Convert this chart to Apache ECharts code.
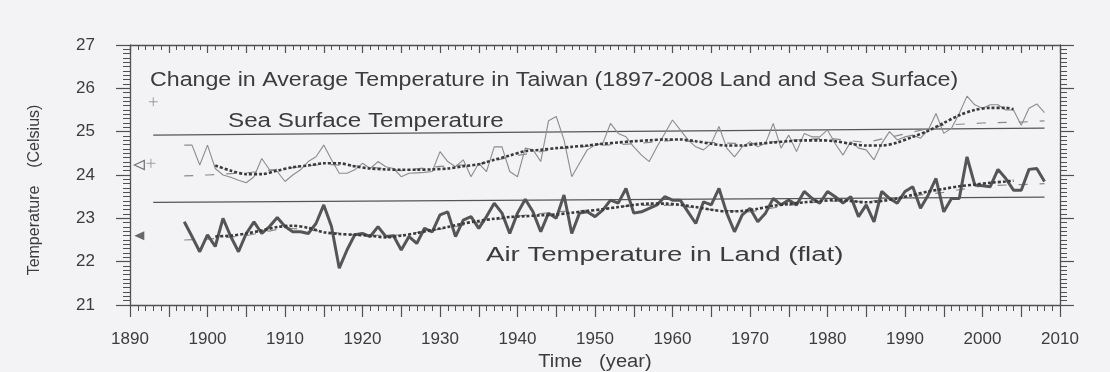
<!DOCTYPE html>
<html>
<head>
<meta charset="utf-8">
<script src="https://cdn.jsdelivr.net/npm/echarts@6/dist/echarts.min.js"></script>
<style>
html,body{margin:0;padding:0;background:#f3f3f5;}
#c{width:1110px;height:372px;}
</style>
</head>
<body>
<div id="c"></div>
<script>
// ---- data ----
var startYear = 1897;
var seaTemp = [
  24.69,24.69,24.23,24.69,24.15,24.00,23.95,23.88,23.82,23.96,
  24.38,24.12,24.08,23.85,24.00,24.12,24.31,24.42,24.69,24.35,
  24.04,24.04,24.12,24.27,24.15,24.31,24.19,24.15,23.96,24.04,
  24.05,24.06,24.08,24.54,24.31,24.19,24.35,23.96,24.27,24.08,
  24.65,24.65,24.08,23.96,24.62,24.58,24.31,25.25,25.35,24.81,
  23.96,24.27,24.58,24.69,24.73,25.19,24.96,24.88,24.65,24.46,
  24.31,24.65,24.96,25.27,25.04,24.81,24.65,24.58,24.73,25.12,
  24.62,24.42,24.65,24.77,24.65,24.73,25.19,24.62,24.92,24.54,
  24.96,24.88,24.88,25.04,24.72,24.46,24.77,24.62,24.58,24.35,
  24.73,25.00,24.81,24.88,24.92,24.85,25.04,25.42,24.96,25.08,
  25.42,25.82,25.62,25.54,25.62,25.62,25.50,25.50,25.15,25.54,
  25.64,25.44
];
var landTemp = [
  22.92,22.58,22.23,22.62,22.35,23.00,22.58,22.23,22.65,22.92,
  22.65,22.81,23.02,22.81,22.69,22.69,22.65,22.88,23.31,22.81,
  21.85,22.27,22.62,22.65,22.58,22.81,22.58,22.60,22.27,22.58,
  22.42,22.77,22.69,23.08,23.15,22.58,22.96,23.04,22.77,23.04,
  23.35,23.12,22.65,23.12,23.44,23.15,22.69,23.12,23.00,23.54,
  22.65,23.12,23.15,23.04,23.19,23.42,23.35,23.69,23.12,23.15,
  23.23,23.31,23.50,23.42,23.42,23.15,22.88,23.38,23.31,23.69,
  23.12,22.69,23.08,23.23,22.92,23.12,23.46,23.31,23.42,23.31,
  23.62,23.46,23.35,23.62,23.50,23.35,23.50,23.04,23.31,22.92,
  23.62,23.46,23.35,23.62,23.73,23.23,23.54,23.92,23.15,23.46,
  23.46,24.42,23.77,23.75,23.73,24.13,23.92,23.65,23.65,24.13,
  24.15,23.85
];
var smoothYears = [1901,1903,1905,1907,1909,1911,1913,1915,1917,1919,1921,1923,1925,1927,1929,1931,1933,1935,1937,1939,1941,1943,1945,1947,1949,1951,1953,1955,1957,1959,1961,1963,1965,1967,1969,1971,1973,1975,1977,1979,1981,1983,1985,1987,1989,1991,1993,1995,1997,1999,2001,2003,2004];
var seaSmooth = [24.22,24.10,24.02,24.02,24.10,24.18,24.22,24.27,24.27,24.20,24.15,24.13,24.12,24.12,24.13,24.15,24.20,24.25,24.35,24.45,24.55,24.58,24.62,24.65,24.68,24.72,24.75,24.78,24.80,24.82,24.82,24.78,24.72,24.68,24.68,24.72,24.75,24.78,24.80,24.80,24.78,24.72,24.68,24.68,24.75,24.88,25.02,25.20,25.38,25.50,25.55,25.55,25.52];
var landSmooth = [22.58,22.60,22.65,22.72,22.80,22.83,22.78,22.68,22.64,22.62,22.60,22.56,22.60,22.66,22.73,22.80,22.88,22.94,22.99,23.03,23.05,23.07,23.09,23.13,23.17,23.21,23.26,23.31,23.34,23.34,23.31,23.26,23.20,23.16,23.17,23.22,23.29,23.33,23.37,23.40,23.42,23.40,23.37,23.40,23.46,23.54,23.62,23.68,23.74,23.78,23.82,23.85,23.87];
var dashYears = [1897,1900,1905,1910,1915,1920,1925,1930,1935,1940,1945,1950,1955,1960,1965,1970,1975,1980,1985,1990,1995,2000,2005,2008];
var seaDash = [23.98,24.00,24.05,24.15,24.25,24.20,24.10,24.20,24.25,24.45,24.60,24.68,24.72,24.80,24.75,24.72,24.80,24.85,24.75,24.95,25.15,25.20,25.22,25.25];
var landDash = [22.50,22.52,22.60,22.78,22.70,22.60,22.62,22.75,22.90,23.05,23.15,23.20,23.30,23.30,23.20,23.15,23.30,23.40,23.38,23.50,23.60,23.75,23.78,23.80];
var refYears = [1893,2008];
var seaRef = [24.92,25.08];
var landRef = [23.37,23.49];
var xTicks = [1890,1900,1910,1920,1930,1940,1950,1960,1970,1980,1990,2000,2010];

function pairs(xs, ys){ return ys.map(function(v,i){ return [xs[i], v]; }); }
function yearly(vals){ return vals.map(function(v,i){ return [startYear+i, v]; }); }

var FONT = '"Liberation Sans", Arial, sans-serif';
var TXT = '#3c3c3c';
var AX = '#505050';

var chart = echarts.init(document.getElementById('c'), null, {renderer:'canvas'});
var option = {
  backgroundColor: '#f3f3f5',
  animation: false,
  textStyle: {fontFamily: FONT},
  grid: {left:130, right:50, top:45, bottom:67, containLabel:false},
  xAxis: [
    {type:'value', min:1890, max:2010, interval:5, position:'bottom',
     axisLine:{show:true, onZero:false, lineStyle:{color:AX, width:1.3}},
     axisTick:{show:true, length:12, lineStyle:{color:AX, width:1.2}},
     minorTick:{show:true, splitNumber:5, length:6, lineStyle:{color:AX, width:1}},
     splitLine:{show:false},
     axisLabel:{margin:26, fontSize:17, color:TXT, fontFamily:FONT,
       formatter:function(v){ return xTicks.indexOf(v) >= 0 ? String(v) : ''; }}},
    {type:'value', min:1890, max:2010, interval:5, position:'top',
     axisLine:{show:true, onZero:false, lineStyle:{color:AX, width:1.3}},
     axisTick:{show:true, inside:true, length:8, lineStyle:{color:AX, width:1.2}},
     minorTick:{show:true, splitNumber:5, length:5, lineStyle:{color:AX, width:1}},
     splitLine:{show:false}, axisLabel:{show:false}}
  ],
  yAxis: [
    {type:'value', min:21, max:27, interval:1, position:'left',
     axisLine:{show:true, onZero:false, lineStyle:{color:AX, width:1.3}},
     axisTick:{show:true, length:14, lineStyle:{color:AX, width:1.2}},
     minorTick:{show:true, splitNumber:10, length:7, lineStyle:{color:AX, width:1}},
     splitLine:{show:false},
     axisLabel:{margin:35, fontSize:17, color:TXT, fontFamily:FONT}},
    {type:'value', min:21, max:27, interval:1, position:'right',
     axisLine:{show:true, onZero:false, lineStyle:{color:AX, width:1.3}},
     axisTick:{show:true, length:14, lineStyle:{color:AX, width:1.2}},
     minorTick:{show:true, splitNumber:10, length:7, lineStyle:{color:AX, width:1}},
     splitLine:{show:false}, axisLabel:{show:false}}
  ],
  series: [
    {type:'line', name:'seaRef', data:pairs(refYears, seaRef), symbol:'none',
     lineStyle:{color:'#555', width:1.3}, z:2},
    {type:'line', name:'landRef', data:pairs(refYears, landRef), symbol:'none',
     lineStyle:{color:'#555', width:1.3}, z:2},
    {type:'line', name:'seaDash', data:pairs(dashYears, seaDash), symbol:'none',
     lineStyle:{color:'#8a8a8a', width:1.2, type:[9,12]}, z:3},
    {type:'line', name:'landDash', data:pairs(dashYears, landDash), symbol:'none',
     lineStyle:{color:'#8a8a8a', width:1.2, type:[9,12]}, z:3},
    {type:'line', name:'Sea', data:yearly(seaTemp), symbol:'none',
     lineStyle:{color:'#8c8c8c', width:1.1}, z:4},
    {type:'line', name:'Land', data:yearly(landTemp), symbol:'none',
     lineStyle:{color:'#555555', width:3}, z:5},
    {type:'line', name:'seaSmooth', data:pairs(smoothYears, seaSmooth), symbol:'none', smooth:0.3,
     lineStyle:{color:'#3a3a3a', width:2.6, type:[3,2]}, z:6},
    {type:'line', name:'landSmooth', data:pairs(smoothYears, landSmooth), symbol:'none', smooth:0.3,
     lineStyle:{color:'#3a3a3a', width:2.6, type:[3,2]}, z:6},
    {type:'scatter', name:'plus', data:[[1893.0,25.69],[1892.7,24.27]],
     symbol:'path://M5,0L5,10M0,5L10,5', symbolSize:9,
     itemStyle:{color:'none', borderColor:'#8a8a8a', borderWidth:1}, z:7},
    {type:'scatter', name:'openTri', data:[[1891.2,24.23]],
     symbol:'triangle', symbolRotate:90, symbolSize:[9,10],
     itemStyle:{color:'#f3f3f5', borderColor:'#555', borderWidth:1.2}, z:7},
    {type:'scatter', name:'fillTri', data:[[1891.2,22.60]],
     symbol:'triangle', symbolRotate:90, symbolSize:[9,10],
     itemStyle:{color:'#444'}, z:7}
  ],
  graphic: [
    {type:'text', x:150, y:80, scaleX:1.16, scaleY:1, style:{text:'Change in Average Temperature in Taiwan (1897-2008 Land and Sea Surface)',
      font:'20px "Liberation Sans", Arial, sans-serif', fill:TXT, align:'left', verticalAlign:'middle'}},
    {type:'text', x:228, y:121, scaleX:1.21, scaleY:1, style:{text:'Sea Surface Temperature',
      font:'20px "Liberation Sans", Arial, sans-serif', fill:TXT, align:'left', verticalAlign:'middle'}},
    {type:'text', x:486, y:255, scaleX:1.38, scaleY:1, style:{text:'Air Temperature in Land (flat)',
      font:'20px "Liberation Sans", Arial, sans-serif', fill:TXT, align:'left', verticalAlign:'middle'}},
    {type:'text', x:35, y:190, rotation:Math.PI/2, style:{text:'Temperature    (Celsius)',
      font:'16px "Liberation Sans", Arial, sans-serif', fill:TXT, align:'center', verticalAlign:'middle'}},
    {type:'text', x:595, y:362, scaleX:1.12, scaleY:1, style:{text:'Time   (year)',
      font:'18px "Liberation Sans", Arial, sans-serif', fill:TXT, align:'center', verticalAlign:'middle'}}
  ]
};
chart.setOption(option);
</script>
</body>
</html>
